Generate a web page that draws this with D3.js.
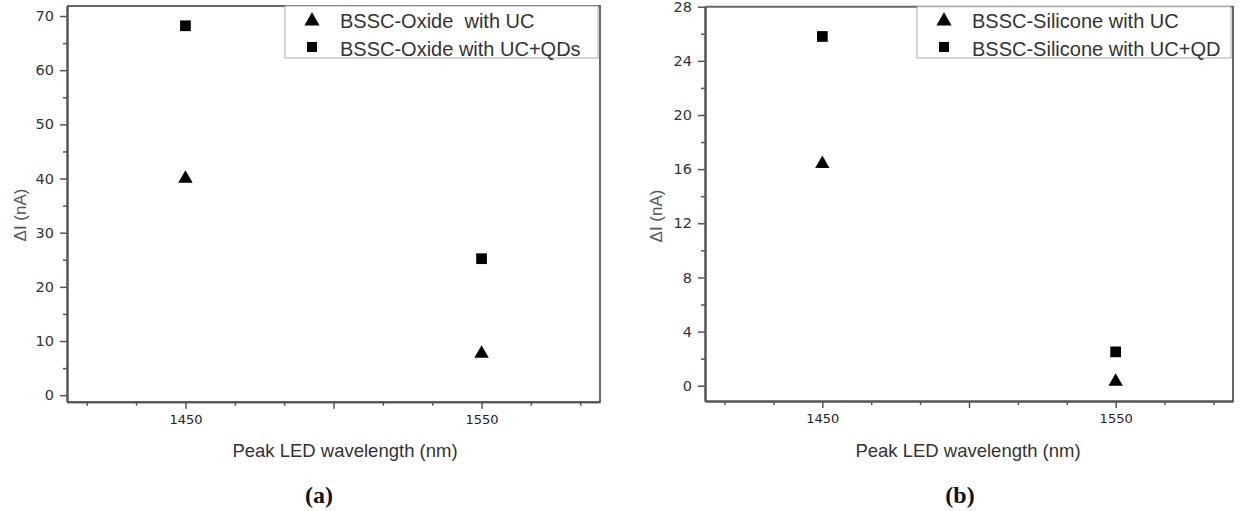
<!DOCTYPE html>
<html>
<head>
<meta charset="utf-8">
<script src="https://cdn.jsdelivr.net/npm/d3@7"></script>
<style>
  body { margin: 0; background: #fff; }
  svg { display: block; }
</style>
</head>
<body>
<script>
// data
const wavelengths = [1450, 1550];
const oxideUC = [40.0, 7.7];
const oxideUCQD = [68.2, 25.2];
const siliconeUC = [16.4, 0.3];
const siliconeUCQD = [25.8, 2.5];

const xMajorTicks = [1450, 1500, 1550];
const xLabelTicks = [1450, 1550];
const oxideYTicks = [0, 10, 20, 30, 40, 50, 60, 70];
const siliconeYTicks = [0, 4, 8, 12, 16, 20, 24, 28];

const svg = d3.select('body')
  .append('svg')
  .attr('width', 1240)
  .attr('height', 511);

const tickFont = '"DejaVu Sans", sans-serif';
const textFont = '"Liberation Sans", Arial, sans-serif';

function panel(opt) {
  // opt: left/right/top/bottom pixel box, y domain, ticks, series, labels
  let g = svg.append('g');

  let x = d3.scaleLinear().domain([1410, 1590]).range([opt.left, opt.right]);
  let y = d3.scaleLinear().domain(opt.yDomain).range([opt.bottom, opt.top]);

  // minor x ticks every 100/6 nm
  let xMinor = d3.range(-2, 9).map(i => 1450 + i * 100 / 6).filter(v => !xMajorTicks.some(m => Math.abs(m - v) < 1));
  let yStep = opt.yTicks[1] - opt.yTicks[0];
  let yMinor = opt.yTicks.map(v => v + yStep / 2).filter(v => v < opt.yDomain[1]);

  // top and right frame
  g.append('path')
    .attr('d', `M${opt.left},${opt.top}H${opt.right}V${opt.bottom}`)
    .attr('fill', 'none')
    .attr('stroke', '#666')
    .attr('stroke-width', 2);

  // y axis
  let yAxisMinor = g.append('g')
    .attr('transform', `translate(${opt.left},0)`)
    .call(d3.axisLeft(y).tickValues(yMinor).tickSize(4).tickFormat('').tickSizeOuter(0));
  let yAxis = g.append('g')
    .attr('transform', `translate(${opt.left},0)`)
    .call(d3.axisLeft(y).tickValues(opt.yTicks).tickSize(7).tickPadding(6).tickSizeOuter(0));

  // x axis
  let xAxisMinor = g.append('g')
    .attr('transform', `translate(0,${opt.bottom})`)
    .call(d3.axisBottom(x).tickValues(xMinor).tickSize(4).tickFormat('').tickSizeOuter(0));
  let xAxis = g.append('g')
    .attr('transform', `translate(0,${opt.bottom})`)
    .call(d3.axisBottom(x).tickValues(xMajorTicks).tickSize(7).tickPadding(6).tickSizeOuter(0)
      .tickFormat(d => xLabelTicks.includes(d) ? d : ''));

  [yAxisMinor, yAxis, xAxisMinor, xAxis].forEach(a => {
    a.select('.domain').attr('stroke', '#555').attr('stroke-width', 2);
    a.selectAll('.tick line').attr('stroke', '#555').attr('stroke-width', 1.5);
    a.selectAll('.tick text')
      .attr('fill', '#333')
      .style('font-family', tickFont)
      .style('font-size', '14.5px');
  });
  xAxis.selectAll('.tick text').style('font-size', '13px').attr('fill', '#222');

  // markers
  let tri = d3.symbol().type(d3.symbolTriangle).size(90);
  let sq = d3.symbol().type(d3.symbolSquare).size(115);

  g.selectAll('.tri')
    .data(wavelengths.map((w, i) => [w, opt.triValues[i]]))
    .join('path')
    .attr('class', 'tri')
    .attr('d', tri)
    .attr('transform', d => `translate(${x(d[0])},${y(d[1])})`)
    .attr('fill', '#000');

  g.selectAll('.sq')
    .data(wavelengths.map((w, i) => [w, opt.sqValues[i]]))
    .join('path')
    .attr('class', 'sq')
    .attr('d', sq)
    .attr('transform', d => `translate(${x(d[0])},${y(d[1])})`)
    .attr('fill', '#000');

  // legend box sits over the top right corner of the frame
  let lg = g.append('g');
  lg.append('rect')
    .attr('x', opt.legendX)
    .attr('y', opt.top)
    .attr('width', opt.right - 2 - opt.legendX)
    .attr('height', 58 - opt.top)
    .attr('fill', '#fff')
    .attr('stroke', '#aaa')
    .attr('stroke-width', 1);
  lg.append('path')
    .attr('d', d3.symbol().type(d3.symbolTriangle).size(100)())
    .attr('transform', `translate(${opt.legendX + 27},${21})`)
    .attr('fill', '#000');
  lg.append('path')
    .attr('d', d3.symbol().type(d3.symbolSquare).size(100)())
    .attr('transform', `translate(${opt.legendX + 27},${47})`)
    .attr('fill', '#000');
  lg.selectAll('text')
    .data(opt.legendLabels)
    .join('text')
    .attr('x', opt.legendX + 55)
    .attr('y', (d, i) => 28 + i * 28)
    .attr('fill', '#333')
    .style('font-family', textFont)
    .style('font-size', '20px')
    .style('white-space', 'pre')
    .text(d => d);

  // axis titles
  g.append('text')
    .attr('text-anchor', 'middle')
    .attr('transform', `translate(${opt.yTitleX},${opt.yTitleY}) rotate(-90)`)
    .attr('fill', '#555')
    .style('font-family', textFont)
    .style('font-size', '17px')
    .text('ΔI (nA)');

  g.append('text')
    .attr('text-anchor', 'middle')
    .attr('x', opt.xTitleX)
    .attr('y', 457)
    .attr('fill', '#333')
    .style('font-family', textFont)
    .style('font-size', '18.5px')
    .text('Peak LED wavelength (nm)');

  // panel letter
  g.append('text')
    .attr('text-anchor', 'middle')
    .attr('x', opt.letterX)
    .attr('y', 503)
    .attr('fill', '#111')
    .style('font-family', '"Liberation Serif", "Times New Roman", serif')
    .style('font-weight', 'bold')
    .style('font-size', '24px')
    .text(opt.letter);
}

panel({
  left: 67, right: 600, top: 6, bottom: 401.7,
  yDomain: [-1.2, 71.85], yTicks: oxideYTicks,
  triValues: oxideUC, sqValues: oxideUCQD,
  legendX: 285, legendLabels: ['BSSC-Oxide  with UC', 'BSSC-Oxide with UC+QDs'],
  yTitleX: 26, yTitleY: 215, xTitleX: 345, letterX: 319, letter: '(a)'
});

panel({
  left: 705, right: 1233, top: 6.7, bottom: 401,
  yDomain: [-1.13, 28], yTicks: siliconeYTicks,
  triValues: siliconeUC, sqValues: siliconeUCQD,
  legendX: 917, legendLabels: ['BSSC-Silicone with UC', 'BSSC-Silicone with UC+QD'],
  yTitleX: 662, yTitleY: 216, xTitleX: 968, letterX: 960, letter: '(b)'
});
</script>
</body>
</html>
